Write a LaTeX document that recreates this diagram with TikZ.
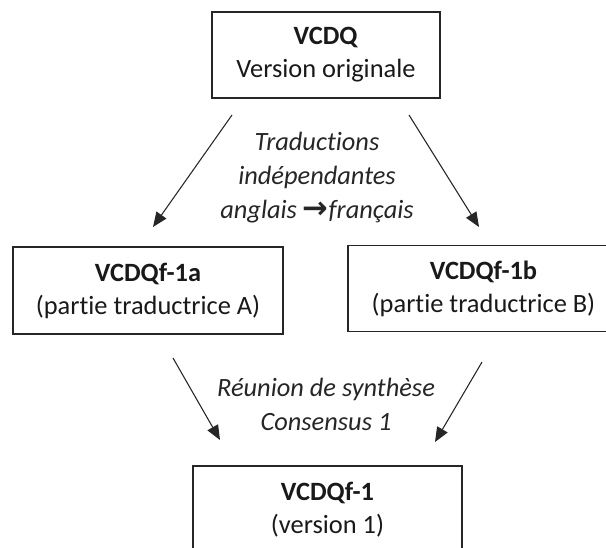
\documentclass[tikz,border=0pt]{standalone}
\usepackage{fontspec}
\setmainfont{Carlito}[Ligatures=NoCommon]
\newfontfamily\symfont{DejaVu Sans}
\usetikzlibrary{arrows.meta}
\begin{document}
\begin{tikzpicture}[x=0.75pt,y=-0.75pt,
  box/.style={draw=black!85,line width=1pt,rectangle,inner sep=0pt,align=center,
    text=black!90,font=\fontsize{19.8}{24.8}\selectfont},
  lbl/.style={inner sep=0pt,align=center,text=black!85,
    font=\fontsize{19.8}{25.5}\selectfont\itshape},
  arr/.style={draw=black!85,line width=0.8pt,-{Triangle[length=11pt,width=9pt]}}]
\useasboundingbox (0,0) rectangle (606,547);
\clip (0,0) rectangle (606,547);
% boxes
\node[box,minimum width=171pt,minimum height=64.5pt] (top) at (326,55)
  {\textbf{VCDQ}\\Version originale};
\node[box,minimum width=202.5pt,minimum height=65.25pt] (A) at (148,290.5)
  {\textbf{VCDQf-1a}\\(partie traductrice A)};
\node[box,minimum width=203.25pt,minimum height=64.5pt] (B) at (483.5,288.5)
  {\textbf{VCDQf-1b}\\(partie traductrice B)};
\node[box,minimum width=201.75pt,minimum height=65.25pt] (C) at (327.5,509.5)
  {\textbf{VCDQf-1}\\(version 1)};
% labels
\node[lbl] (t1) at (317,178)
  {Traductions\\indépendantes\\anglais {\upshape\symfont\bfseries\fontsize{23}{25}\selectfont →}français};
\node[lbl] (t2) at (326,404)
  {Réunion de synthèse\\Consensus 1};
% arrow ends
\coordinate (a1s) at (232,115);
\coordinate (a1e) at (153,227);
\coordinate (a2s) at (409,115);
\coordinate (a2e) at (479,227);
\coordinate (a3s) at (173,358);
\coordinate (a3e) at (220,440);
\coordinate (a4s) at (482,362);
\coordinate (a4e) at (435,442);
\draw[arr] (a1s) -- (a1e);
\draw[arr] (a2s) -- (a2e);
\draw[arr] (a3s) -- (a3e);
\draw[arr] (a4s) -- (a4e);
\end{tikzpicture}
\end{document}
